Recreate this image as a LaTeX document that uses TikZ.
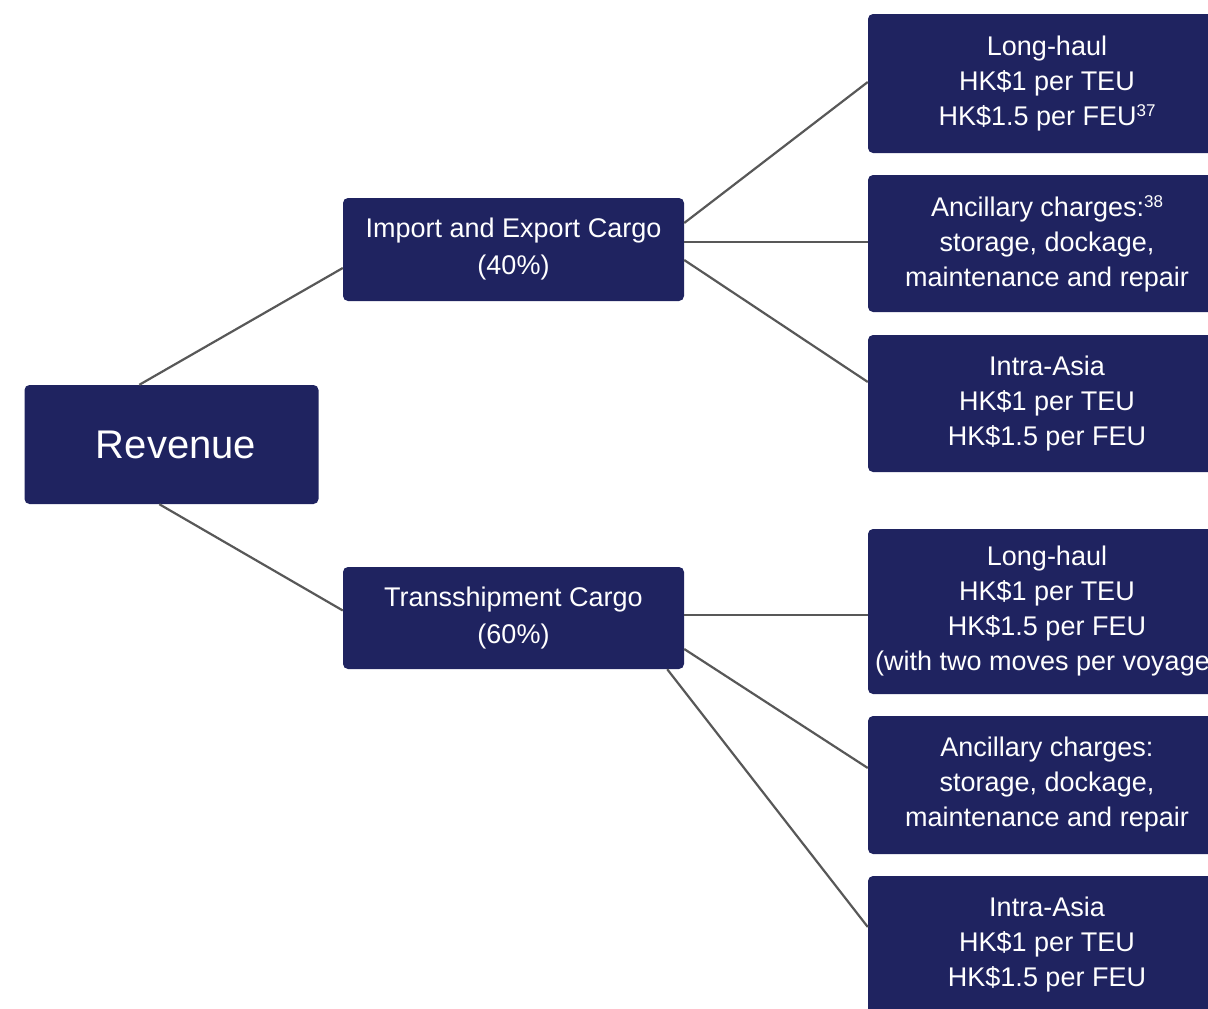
\documentclass[tikz,border=0pt]{standalone}
\usepackage{fontspec}
\setmainfont{Liberation Sans}
\definecolor{navy}{RGB}{31,35,96}
\definecolor{linkgray}{RGB}{88,88,88}
\begin{document}
\begin{tikzpicture}[x=1pt,y=-1pt,
  box/.style={draw=none,fill=navy,rounded corners=5pt,text=white,align=center,inner sep=0pt,
    font=\fontsize{27}{35}\selectfont},
  rbox/.style={box,minimum width=358pt},
  mbox/.style={box,minimum width=341pt,font=\fontsize{27}{37}\selectfont},
  link/.style={draw=linkgray,line width=2.2pt}]
\useasboundingbox (0,0) rectangle (1208,1009);
\clip (0,0) rectangle (1208,1009);
\newcommand{\supx}[1]{\raisebox{9pt}{\fontsize{17}{17}\selectfont #1}}
\newcommand{\dn}{\rule{0pt}{0pt}\\[-31pt]\rule{0pt}{0pt}\\}
% nodes
\node[box,minimum width=294pt,minimum height=119pt,font=\fontsize{40}{44}\selectfont] (rev) at (171.5,444.5) {\hspace*{9pt}Revenue};
\node[mbox,minimum height=103pt] (imp) at (513.5,249.5) {Import and Export Cargo\\(40\%)};
\node[mbox,minimum height=102pt] (tra) at (513.5,618) {Transshipment Cargo\\(60\%)};
\node[rbox,minimum height=139pt] (b1) at (1047,83.5) {Long-haul\\HK\$1 per TEU\\HK\$1.5 per FEU\supx{37}};
\node[rbox,minimum height=137pt] (b2) at (1047,243.5) {Ancillary charges:\supx{38}\\storage, dockage,\\maintenance and repair};
\node[rbox,minimum height=137pt] (b3) at (1047,403.5) {Intra-Asia\\HK\$1 per TEU\\HK\$1.5 per FEU};
\node[rbox,minimum height=165pt] (b4) at (1047,611.5) {Long-haul\\HK\$1 per TEU\\HK\$1.5 per FEU\\(with two moves per voyage)};
\node[rbox,minimum height=138pt] (b5) at (1047,785) {Ancillary charges:\\storage, dockage,\\maintenance and repair};
\node[rbox,minimum height=138pt] (b6) at (1047,945) {Intra-Asia\\HK\$1 per TEU\\HK\$1.5 per FEU};
% connectors
\draw[link] ([xshift=115pt]rev.north west) -- ([yshift=-18.5pt]imp.west);
\draw[link] ([xshift=135pt]rev.south west) -- ([yshift=7.5pt]tra.west);
\draw[link] ([yshift=26.5pt]imp.east) -- ([yshift=1.5pt]b1.west);
\draw[link] ([yshift=1.5pt]imp.east |- b2.west) -- ([yshift=1.5pt]b2.west);
\draw[link] ([yshift=-10.5pt]imp.east) -- ([yshift=21.5pt]b3.west);
\draw[link] ([yshift=-3.5pt]tra.east |- b4.west) -- ([yshift=-3.5pt]b4.west);
\draw[link] ([yshift=-31pt]tra.east) -- ([yshift=17pt]b5.west);
\draw[link] ([xshift=-17pt]tra.south east) -- ([yshift=18pt]b6.west);
\end{tikzpicture}
\end{document}
